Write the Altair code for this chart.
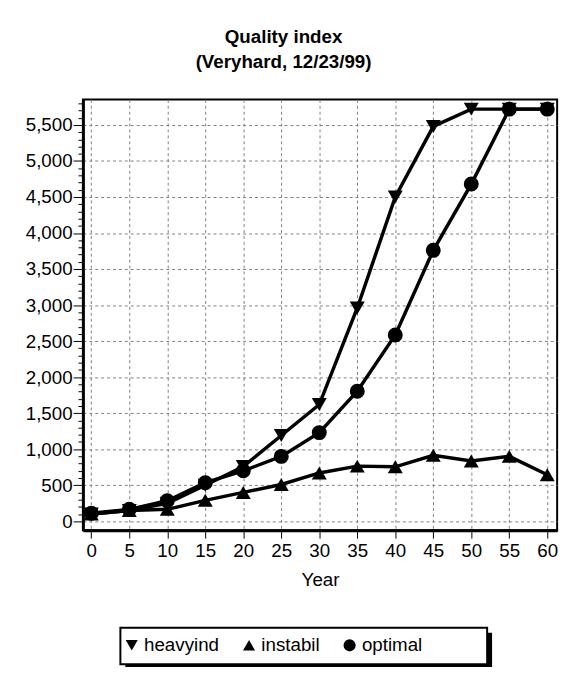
import altair as alt
import pandas as pd

years = [0, 5, 10, 15, 20, 25, 30, 35, 40, 45, 50, 55, 60]
heavyind = [100, 150, 250, 500, 760, 1190, 1620, 2960, 4500, 5480, 5720, 5720, 5720]
instabil = [100, 150, 165, 290, 400, 510, 670, 765, 755, 915, 835, 900, 645]
optimal = [110, 165, 285, 535, 700, 900, 1230, 1805, 2585, 3760, 4680, 5720, 5720]
series_names = ["heavyind", "instabil", "optimal"]
series_shapes = ["triangle-down", "triangle-up", "circle"]

rows = []
for name, vals in zip(series_names, [heavyind, instabil, optimal]):
    for yr, v in zip(years, vals):
        rows.append({"Year": yr, "value": v, "series": name})
df = pd.DataFrame(rows)

FONT = "Liberation Sans"
minor_test = "datum.value % 500 === 0"

x_enc = alt.X(
    "Year:Q",
    scale=alt.Scale(domain=[-1.1, 61.3], nice=False, zero=False),
    axis=alt.Axis(
        values=list(range(0, 61, 5)),
        title="Year",
        grid=True, gridDash=[3, 3], gridColor="#808080", gridWidth=1,
        domainColor="black", domainWidth=3,
        tickColor="black", tickSize=8, tickWidth=1,
        labelFont=FONT, labelFontSize=19, labelColor="black", labelPadding=4,
        titleFont=FONT, titleFontSize=19, titleFontWeight="normal",
        titleColor="black", titlePadding=10,
    ),
)
y_enc = alt.Y(
    "value:Q",
    scale=alt.Scale(domain=[-125, 5855], nice=False, zero=False),
    axis=alt.Axis(
        values=list(range(0, 5801, 100)),
        title=None,
        format=",d",
        labelExpr=f"{minor_test} ? datum.label : ''",
        labelOverlap=False,
        grid=True, gridDash=[3, 3], gridColor="#808080", gridWidth=1,
        gridOpacity={"condition": {"test": minor_test, "value": 1}, "value": 0},
        domainColor="black", domainWidth=3,
        tickColor="black", tickWidth=1,
        tickSize={"condition": {"test": minor_test, "value": 10}, "value": 5},
        labelFont=FONT, labelFontSize=19, labelColor="black", labelPadding=1,
    ),
)

one = alt.Data(values=[{}])
shadow = alt.Chart(one).mark_rect(color="black").encode(
    x=alt.value(43), x2=alt.value(415), y=alt.value(541), y2=alt.value(578)
)
box = alt.Chart(one).mark_rect(fill="white", stroke="black", strokeWidth=2).encode(
    x=alt.value(38), x2=alt.value(410), y=alt.value(536), y2=alt.value(573)
)

lines = alt.Chart(df).mark_line(color="black", strokeWidth=3.5).encode(
    x=x_enc, y=y_enc, detail="series:N"
)
points = alt.Chart(df).mark_point(filled=True, color="black", size=230, opacity=1).encode(
    x=x_enc, y=y_enc,
    shape=alt.Shape(
        "series:N",
        scale=alt.Scale(domain=series_names, range=series_shapes),
        legend=alt.Legend(
            orient="none", legendX=40, legendY=544, direction="horizontal",
            columns=3, gridAlign="each", columnPadding=20, title=None,
            labelFont=FONT, labelFontSize=19, labelColor="black", labelOffset=3,
            symbolSize=150, symbolFillColor="black", symbolStrokeColor="black",
            symbolStrokeWidth=1, padding=0,
        ),
    ),
)

chart = alt.layer(shadow, box, lines, points).properties(
    width=481, height=437,
    title=alt.TitleParams(
        ["Quality index", "(Veryhard, 12/23/99)"],
        font=FONT, fontSize=19, fontWeight="bold", color="black",
        lineHeight=25, anchor="middle", dx=-37, offset=23,
    ),
).configure(
    autosize=alt.AutoSizeParams(type="none"),
    padding={"left": 76, "top": 88, "right": 10, "bottom": 134},
    background="white",
).configure_view(stroke="black", strokeWidth=2)

chart.save("out.html", embed_options={"renderer": "svg", "actions": False})
